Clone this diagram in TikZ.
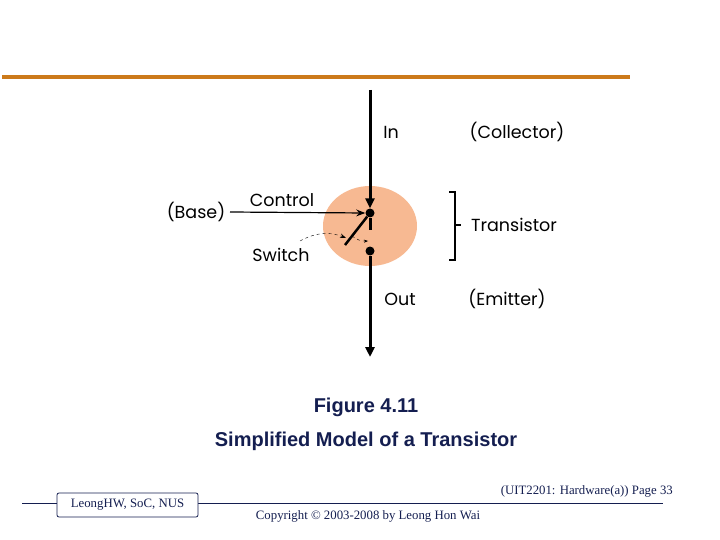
\documentclass[tikz,border=0pt]{standalone}
\usepackage{fontspec}
\setmainfont{Liberation Serif}
\newfontfamily\gfont{Poppins}
\newfontfamily\afont{Liberation Sans}
\usetikzlibrary{arrows.meta,shapes.geometric}
\definecolor{orng}{RGB}{204,122,26}
\definecolor{peach}{RGB}{247,185,146}
\definecolor{navy}{RGB}{20,30,80}
\tikzset{lbl/.style={font=\gfont\fontsize{17.5}{20}\selectfont, inner sep=0pt},
  foot/.style={font=\fontsize{12.8}{15}\selectfont, inner sep=0pt, text=navy},
  wire/.style={line width=3pt, -{Triangle[length=10pt,width=9pt]}}}
\begin{document}
\begin{tikzpicture}[x=1pt,y=-1pt]
\useasboundingbox (0,0) rectangle (720,540);
\draw[orng, line width=4pt] (2,77) -- (630,77);
\node[ellipse, draw=none, fill=peach, minimum width=94, minimum height=80, inner sep=0pt] (ell) at (370,226) {};
\coordinate (top) at (370,90);
\coordinate (bot) at (370,357);
\node[circle, fill=black, inner sep=0pt, minimum size=9pt] (d1) at (370,213) {};
\node[circle, fill=black, inner sep=0pt, minimum size=9pt] (d2) at (370,251) {};
\draw[wire] (top) -- (d1.north);
\draw[line width=3pt] (d1) -- (370,230);
\draw[wire] (d2) -- (bot);
\coordinate (sw) at (345,245);
\draw[line width=2.5pt] (d1) -- (sw);
\draw[dashed, -{Stealth[length=4pt]}] (352,236) to[bend right=20] (368,241);
\node[lbl] (base) at (196,212) {(Base)};
\coordinate (basee) at (230,212);
\draw[line width=1.2pt, -{Stealth[length=9pt]}] (basee) -- (d1.west);
\node[lbl] (ctrl) at (282,200) {Control};
\node[lbl] (swl) at (281,255) {Switch};
\draw[dashed, -{Stealth[length=6pt]}] (300,241) to[bend left=25] (346,238);
\node[lbl] (in) at (391,132) {In};
\node[lbl] (col) at (517,132) {(Collector)};
\node[lbl] (out) at (400,299) {Out};
\node[lbl] (emi) at (507,299) {(Emitter)};
\node[lbl] (tra) at (514,225) {Transistor};
\draw[line width=1.3pt] (449,192) -- (455,192) -- (455,260) -- (449,260);
\draw[line width=1.3pt] (455,225) -- (461,225);
\node[font=\afont\bfseries\fontsize{20}{23}\selectfont, text=navy] (fig) at (366,407) {Figure 4.11};
\node[font=\afont\bfseries\fontsize{20}{23}\selectfont, text=navy] (cap) at (366,441) {Simplified Model of a Transistor};
\draw[navy, line width=0.8pt] (22,503) -- (663,503);
\node[foot, draw=navy, line width=0.8pt, fill=white, rounded corners=2pt, minimum width=141, minimum height=24] (lb) at (127.5,505) {LeongHW, SoC, NUS};
\node[foot, anchor=east] (pg) at (673,491) {(UIT2201: Hardware(a)) Page 33};
\node[foot] (cp) at (368,516) {Copyright © 2003-2008 by Leong Hon Wai};
\end{tikzpicture}
\end{document}
